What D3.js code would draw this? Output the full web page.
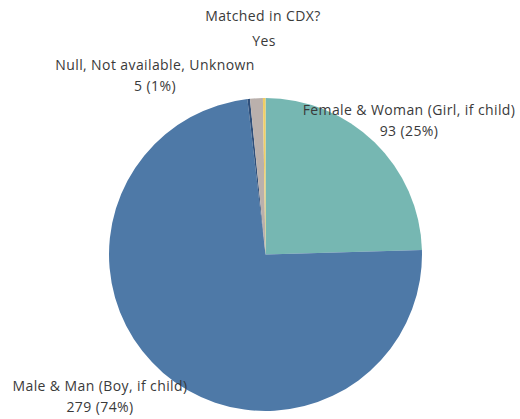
<!DOCTYPE html>
<html><head><meta charset="utf-8">
<script src="https://cdn.jsdelivr.net/npm/d3@7"></script>
<style>
html,body{margin:0;padding:0;background:#fff;}
svg{display:block;}
text{font-family:"Open Sans",Lato,sans-serif;fill:#3a3a3a;letter-spacing:0.4px;}
</style></head>
<body>
<svg id="chart" width="520" height="419"></svg>
<script>
const title = "Matched in CDX?";
const subtitle = "Yes";
const categories = ["Female & Woman (Girl, if child)", "Male & Man (Boy, if child)", "Other", "Null, Not available, Unknown", "Not specified"];
const values = [93, 279, 1, 5, 1];
const colors = ["#76B7B2", "#4E79A7", "#2F4F7A", "#BAB0AC", "#F1CE63"];
const labelled = [true, true, false, true, false];
const percentLabels = ["25%", "74%", "", "1%", ""];

const svg = d3.select("#chart");
const cx = 265.5, cy = 254.5, r = 156.5;
const fs = 14;

svg.append("text").attr("x", 263).attr("y", 21).attr("text-anchor", "middle")
  .attr("font-size", fs).text(title);
svg.append("text").attr("x", 264).attr("y", 46).attr("text-anchor", "middle")
  .attr("font-size", fs).text(subtitle);

const pie = d3.pie().sort(null).value(d => d)(values);
const arc = d3.arc().innerRadius(0).outerRadius(r);
const g = svg.append("g").attr("transform", `translate(${cx},${cy})`);
g.selectAll("path").data(pie).join("path")
  .attr("d", arc)
  .attr("fill", (d, i) => colors[i]);

const labelPos = {
  0: {x: 409, y: 115},
  1: {x: 100, y: 391},
  3: {x: 155, y: 70}
};
pie.forEach((d, i) => {
  if (!labelled[i]) return;
  const p = labelPos[i];
  const t = svg.append("text").attr("text-anchor", "middle").attr("font-size", fs);
  t.append("tspan").attr("x", p.x).attr("y", p.y).text(categories[i]);
  t.append("tspan").attr("x", p.x).attr("y", p.y + 20.5).text(`${values[i]} (${percentLabels[i]})`);
});
</script>
</body></html>
